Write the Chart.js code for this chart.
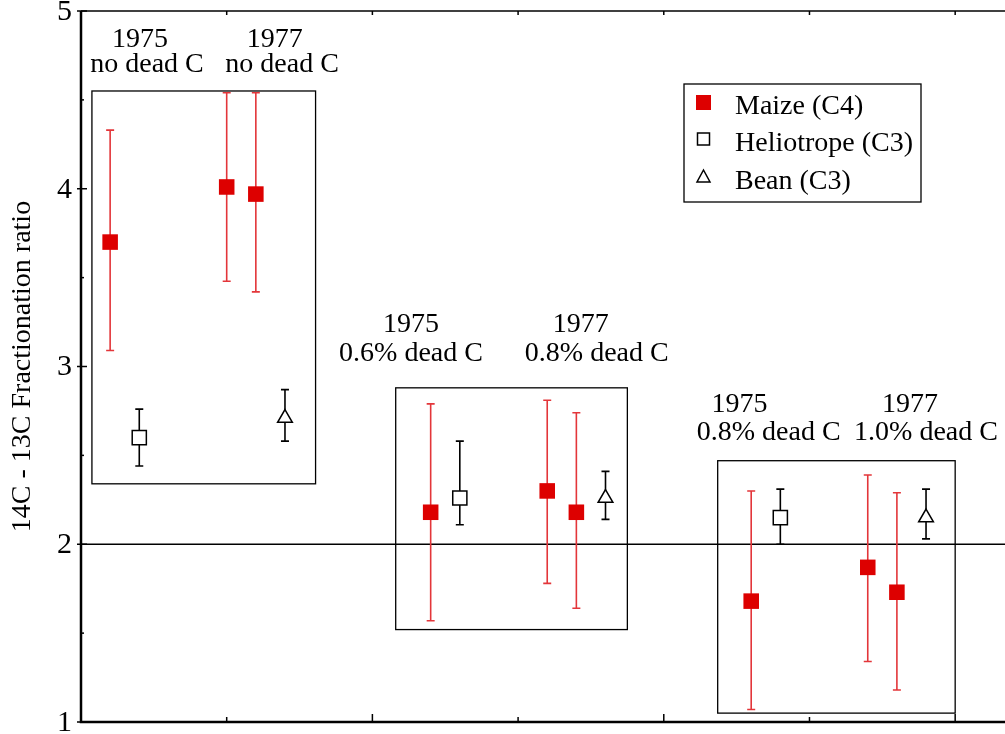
<!DOCTYPE html>
<html>
<head>
<meta charset="utf-8">
<script src="https://cdn.jsdelivr.net/npm/chart.js@4"></script>
<style>
  html, body { margin: 0; padding: 0; background: #fff; overflow: hidden; }
  canvas { display: block; }
</style>
</head>
<body>
<canvas id="chart" width="1005" height="734"></canvas>
<script>
// data
const maizeX = [0.2, 1.0, 1.2, 2.4, 3.2, 3.4, 4.6, 5.4, 5.6];
const maizeY = [3.70, 4.01, 3.97, 2.18, 2.30, 2.18, 1.68, 1.87, 1.73];
const maizeHi = [4.33, 4.54, 4.54, 2.79, 2.81, 2.74, 2.30, 2.39, 2.29];
const maizeLo = [3.09, 3.48, 3.42, 1.57, 1.78, 1.64, 1.07, 1.34, 1.18];

const helioX = [0.4, 2.6, 4.8];
const helioY = [2.60, 2.26, 2.15];
const helioHi = [2.76, 2.58, 2.31];
const helioLo = [2.44, 2.11, 2.00];

const beanX = [1.4, 3.6, 5.8];
const beanY = [2.71, 2.26, 2.15];
const beanHi = [2.87, 2.41, 2.31];
const beanLo = [2.58, 2.14, 2.03];

const yTicks = [1, 2, 3, 4, 5];
const refLine = 2;

// group boxes: [xMin, xMax, yMin, yMax]
const groupBoxes = [
    [0.075, 1.61, 2.34, 4.55],
    [2.16, 3.75, 1.52, 2.88],
    [4.37, 6.0, 1.05, 2.47],
];

// group captions: [text, x, y]
const captions = [
    ["1975", 0.405, 4.80], ["no dead C", 0.453, 4.655],
    ["1977", 1.33, 4.80], ["no dead C", 1.38, 4.655],
    ["1975", 2.265, 3.195], ["0.6% dead C", 2.265, 3.03],
    ["1977", 3.43, 3.195], ["0.8% dead C", 3.54, 3.03],
    ["1975", 4.52, 2.744], ["0.8% dead C", 4.72, 2.584],
    ["1977", 5.69, 2.744], ["1.0% dead C", 5.80, 2.584],
];

const legendLabels = ["Maize (C4)", "Heliotrope (C3)", "Bean (C3)"];

const serif = "'Liberation Serif', 'DejaVu Serif', serif";
const red = "#dd0000";

function points(xs, ys, lo, hi) {
    return xs.map((x, i) => ({ x: x, y: ys[i], lo: lo[i], hi: hi[i] }));
}

// error bars, drawn under the markers
const errorBars = {
    id: "errorBars",
    beforeDatasetsDraw(chart) {
        const ctx = chart.ctx;
        const xs = chart.scales.x, ys = chart.scales.y;
        chart.data.datasets.forEach((ds) => {
            ctx.save();
            ctx.strokeStyle = ds.barColor;
            ctx.lineWidth = 1.6;
            ds.data.forEach((p) => {
                const px = xs.getPixelForValue(p.x);
                const top = ys.getPixelForValue(p.hi);
                const bot = ys.getPixelForValue(p.lo);
                ctx.beginPath();
                ctx.moveTo(px, top); ctx.lineTo(px, bot);
                ctx.moveTo(px - 4, top); ctx.lineTo(px + 4, top);
                ctx.moveTo(px - 4, bot); ctx.lineTo(px + 4, bot);
                ctx.stroke();
            });
            ctx.restore();
        });
    },
};

// frame, ref line, boxes, captions and legend
const decorations = {
    id: "decorations",
    beforeDatasetsDraw(chart) {
        const ctx = chart.ctx;
        const a = chart.chartArea;
        const xs = chart.scales.x, ys = chart.scales.y;
        ctx.save();
        ctx.strokeStyle = "#000";
        ctx.fillStyle = "#000";

        // horizontal line at 2
        ctx.lineWidth = 1.5;
        const ry = ys.getPixelForValue(refLine);
        ctx.beginPath(); ctx.moveTo(a.left, ry); ctx.lineTo(a.right, ry); ctx.stroke();

        // top line
        ctx.beginPath(); ctx.moveTo(a.left, a.top); ctx.lineTo(a.right, a.top); ctx.stroke();

        // axes
        ctx.lineWidth = 2.5;
        ctx.beginPath();
        ctx.moveTo(a.left, a.top); ctx.lineTo(a.left, a.bottom); ctx.lineTo(a.right, a.bottom);
        ctx.stroke();

        // x ticks (no labels)
        ctx.lineWidth = 1.5;
        for (let t = 1; t <= 6; t++) {
            const px = xs.getPixelForValue(t);
            const len = t % 2 === 0 ? 8 : 5;
            ctx.beginPath();
            ctx.moveTo(px, a.bottom); ctx.lineTo(px, a.bottom - len);
            ctx.moveTo(px, a.top); ctx.lineTo(px, a.top + 4);
            ctx.stroke();
        }

        // y ticks and labels
        ctx.font = "30px " + serif;
        ctx.textAlign = "right";
        ctx.textBaseline = "middle";
        for (let v = 1; v <= 5; v += 0.5) {
            const py = ys.getPixelForValue(v);
            const major = Number.isInteger(v);
            ctx.beginPath();
            ctx.moveTo(a.left - (major ? 4 : 0), py);
            ctx.lineTo(a.left + (major ? 6 : 3), py);
            ctx.stroke();
        }
        yTicks.forEach((v) => {
            ctx.fillText(String(v), 72, ys.getPixelForValue(v) + 1);
        });

        // group boxes
        ctx.lineWidth = 1.3;
        groupBoxes.forEach((b) => {
            const x0 = xs.getPixelForValue(b[0]), x1 = xs.getPixelForValue(b[1]);
            const y0 = ys.getPixelForValue(b[3]), y1 = ys.getPixelForValue(b[2]);
            ctx.strokeRect(x0, y0, x1 - x0, y1 - y0);
        });

        // captions
        ctx.font = "28px " + serif;
        ctx.textAlign = "center";
        ctx.textBaseline = "alphabetic";
        captions.forEach((c) => {
            ctx.fillText(c[0], xs.getPixelForValue(c[1]), ys.getPixelForValue(c[2]));
        });

        // legend
        ctx.lineWidth = 1.3;
        ctx.strokeRect(684, 84, 237, 118);
        ctx.font = "28px " + serif;
        ctx.textAlign = "left";
        const rows = [102, 139, 177];
        legendLabels.forEach((t, i) => {
            ctx.fillText(t, 735, rows[i] + 12);
        });
        ctx.fillStyle = red;
        ctx.fillRect(696, 95, 15, 15);
        ctx.lineWidth = 1.5;
        ctx.strokeRect(697.5, 133, 12, 12);
        ctx.beginPath();
        ctx.moveTo(703.5, 170); ctx.lineTo(710, 182); ctx.lineTo(697, 182); ctx.closePath();
        ctx.stroke();

        ctx.restore();
    },
};

new Chart(document.getElementById("chart"), {
    type: "scatter",
    data: {
        datasets: [
            {
                label: legendLabels[0],
                data: points(maizeX, maizeY, maizeLo, maizeHi),
                pointStyle: "rect",
                pointRadius: 11,
                backgroundColor: red,
                borderColor: red,
                borderWidth: 0,
                barColor: "#e3363a",
            },
            {
                label: legendLabels[1],
                data: points(helioX, helioY, helioLo, helioHi),
                pointStyle: "rect",
                pointRadius: 10,
                backgroundColor: "#fff",
                borderColor: "#000",
                borderWidth: 1.5,
                barColor: "#000",
            },
            {
                label: legendLabels[2],
                data: points(beanX, beanY, beanLo, beanHi),
                pointStyle: "triangle",
                pointRadius: 8.5,
                backgroundColor: "#fff",
                borderColor: "#000",
                borderWidth: 1.5,
                barColor: "#000",
            },
        ],
    },
    options: {
        responsive: false,
        animation: false,
        layout: { autoPadding: false, padding: { top: 11, bottom: 12, right: 0, left: 0 } },
        plugins: {
            legend: { display: false },
            tooltip: { enabled: false },
        },
        scales: {
            x: {
                type: "linear",
                display: false,
                min: 0,
                max: 6.342,
            },
            y: {
                min: 1,
                max: 5,
                afterFit: (scale) => { scale.width = 81; },
                grid: { display: false },
                border: { display: false },
                ticks: { display: false },
                title: {
                    display: true,
                    text: "14C - 13C Fractionation ratio",
                    color: "#000",
                    font: { family: serif, size: 28 },
                    padding: { top: 6, bottom: 0 },
                },
            },
        },
    },
    plugins: [decorations, errorBars],
});
</script>
</body>
</html>
